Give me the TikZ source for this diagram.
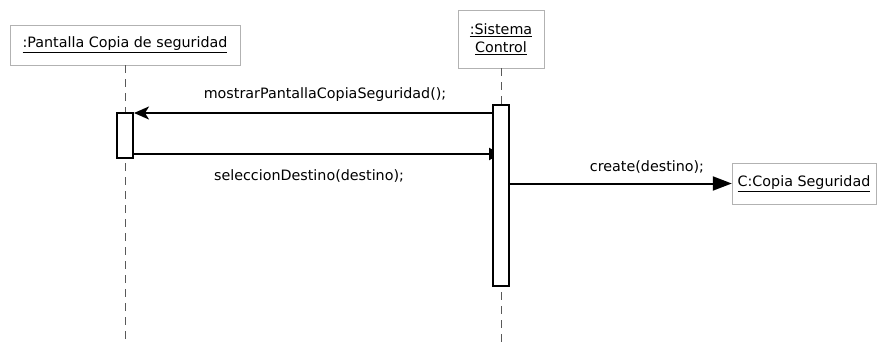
\documentclass[tikz,border=0pt]{standalone}
\usepackage{fontspec}
\setmainfont{DejaVu Sans}
\usetikzlibrary{arrows.meta,positioning,calc}

\begin{document}
\begin{tikzpicture}[
    x=1pt, y=-1pt,
    obj/.style={draw=gray!60, fill=white, inner sep=0pt, align=center, font=\fontsize{14.3}{18}\selectfont},
    act/.style={draw=black, fill=white, line width=1.6pt, inner sep=0pt, minimum width=16pt},
    lifeline/.style={gray!70!black, line width=1pt, dash pattern=on 8pt off 6pt},
    msg/.style={line width=2pt},
    lbl/.style={font=\fontsize{14.3}{18}\selectfont, inner sep=0pt}
]
    \useasboundingbox (0,0) rectangle (878,345);

    % Objetos
    \node[obj, minimum width=230pt, minimum height=40pt] (pantalla) at (125,45) {\underline{:Pantalla Copia de seguridad}};
    \node[obj, minimum width=86pt, minimum height=58pt] (sistema) at (501,39) {\underline{:Sistema}\\\underline{Control}};
    \node[obj, minimum width=144pt, minimum height=41pt] (copia) at (804,183.5) {\underline{C:Copia Seguridad}};

    % Lineas de vida
    \coordinate (fin1) at (125,345);
    \coordinate (fin2) at (501,345);
    \draw[lifeline] (pantalla.south) -- (fin1);
    \draw[lifeline] (sistema.south) -- (fin2);

    % Mensajes
    \coordinate (m1) at (493,113);
    \coordinate (d1) at (134,113);
    \coordinate (m2) at (133,154);
    \coordinate (m3) at (509,183.5);
    \draw[msg, -{Stealth[length=15pt, width=13pt, inset=4pt]}] (m1) -- (d1);
    \draw[msg, -{Triangle[length=12pt, width=12pt]}] (m2) -- (m2 -| sistema.south);
    \draw[msg, -{Triangle[length=19pt, width=14pt]}] (m3) -- (copia.west);

    % Activaciones
    \node[act, minimum height=45pt] (act1) at (125,135.5) {};
    \node[act, minimum height=181pt] (act2) at (501,195.5) {};

    % Etiquetas
    \node[lbl] (l1) at (325,95) {mostrarPantallaCopiaSeguridad();};
    \node[lbl] (l2) at (309,176) {seleccionDestino(destino);};
    \node[lbl] (l3) at (647,167) {create(destino);};
\end{tikzpicture}
\end{document}
